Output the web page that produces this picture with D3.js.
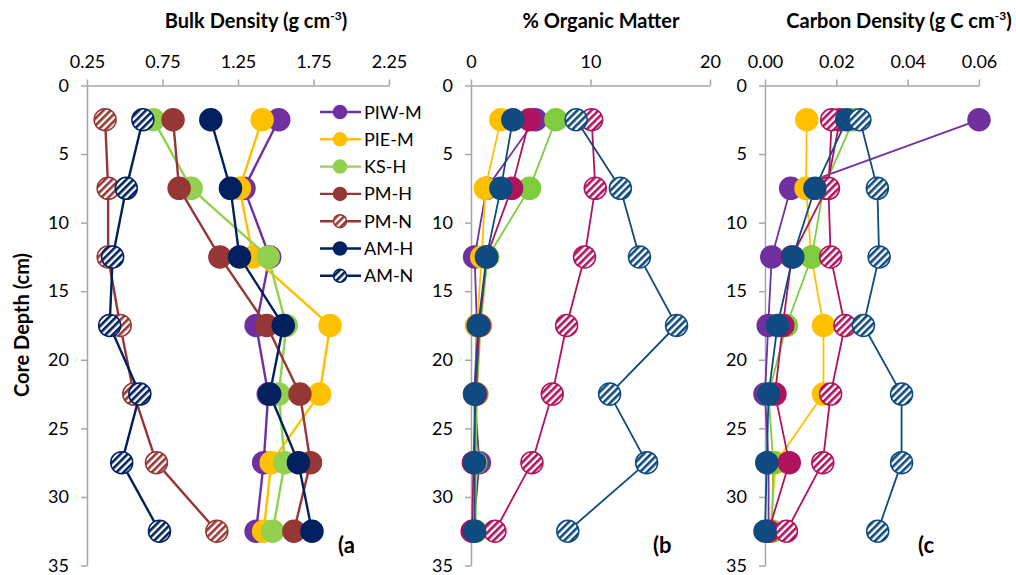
<!DOCTYPE html>
<html><head><meta charset="utf-8">
<script src="https://cdn.jsdelivr.net/npm/d3@7"></script>
<style>
body{margin:0;background:#fff;}
svg{font-family:Lato,"Open Sans",sans-serif;}
</style></head><body>
<svg id="c" width="1016" height="575"></svg>
<script>
const depths = [2.5, 7.5, 12.5, 17.5, 22.5, 27.5, 32.5];
const seriesNames = ["PIW-M","PIE-M","KS-H","PM-H","PM-N","AM-H","AM-N"];
const hatched = [false,false,false,false,true,false,true];
const colorsA = ["#7030A0","#FFC000","#92D050","#953735","#953735","#002060","#002060"];
const colorsBC = ["#7030A0","#FFC000","#7FCC3F","#B0135E","#B0135E","#0F4A80","#0F4A80"];

// Bulk density (g cm-3)
const bdPIWM = [1.52, 1.29, 1.46, 1.37, 1.45, 1.42, 1.37];
const bdPIEM = [1.41, 1.26, 1.35, 1.86, 1.79, 1.47, 1.42];
const bdKSH  = [0.69, 0.94, 1.45, 1.57, 1.52, 1.56, 1.48];
const bdPMH  = [0.82, 0.86, 1.13, 1.44, 1.66, 1.73, 1.62];
const bdPMN  = [0.37, 0.39, 0.39, 0.47, 0.56, 0.71, 1.11];
const bdAMH  = [1.07, 1.20, 1.26, 1.55, 1.46, 1.65, 1.74];
const bdAMN  = [0.62, 0.51, 0.42, 0.40, 0.60, 0.48, 0.73];

// % organic matter
const omPIWM = [5.4, 1.3, 0.3, 0.5, 0.3, 0.7, 0.2];
const omPIEM = [2.5, 1.2, 0.9, 0.5, 0.4, 0.3, 0.3];
const omKSH  = [7.1, 4.9, 1.4, 0.8, 0.5, 0.4, 0.4];
const omPMH  = [4.9, 3.4, 1.3, 0.7, 0.4, 0.2, 0.1];
const omPMN  = [10.1, 10.4, 9.5, 8.0, 6.8, 5.1, 2.0];
const omAMH  = [3.5, 2.5, 1.3, 0.6, 0.3, 0.3, 0.3];
const omAMN  = [8.8, 12.5, 14.1, 17.2, 11.6, 14.7, 8.1];

// Carbon density (g C cm-3)
const cdPIWM = [0.060, 0.0072, 0.0019, 0.0009, 0.0000, 0.0010, 0.0010];
const cdPIEM = [0.0117, 0.0115, 0.0130, 0.0164, 0.0164, 0.0030, 0.0015];
const cdKSH  = [0.0248, 0.0164, 0.0131, 0.0060, 0.0010, 0.0023, 0.0020];
const cdPMH  = [0.0210, 0.0173, 0.0075, 0.0050, 0.0028, 0.0068, 0.0010];
const cdPMN  = [0.0187, 0.0178, 0.0184, 0.0224, 0.0184, 0.0162, 0.0060];
const cdAMH  = [0.0229, 0.0140, 0.0078, 0.0035, 0.0010, 0.0005, 0.0000];
const cdAMN  = [0.0266, 0.0315, 0.0320, 0.0276, 0.0383, 0.0383, 0.0316];

const xTicksA = [0.25, 0.75, 1.25, 1.75, 2.25];
const xTicksB = [0, 10, 20];
const xTicksC = [0.00, 0.02, 0.04, 0.06];
const yTicks = [0, 5, 10, 15, 20, 25, 30, 35];

const svg = d3.select("#c");
const defs = svg.append("defs");
function makePattern(id, color){
  const p = defs.append("pattern").attr("id", id).attr("patternUnits","userSpaceOnUse")
    .attr("width", 5).attr("height", 5).attr("patternTransform","rotate(-45)");
  p.append("rect").attr("width",5).attr("height",5).attr("fill","#fff");
  p.append("rect").attr("width",5).attr("height",2.6).attr("fill",color);
}
makePattern("hA", "#953735"); makePattern("hAn", "#002060");
makePattern("hB", "#B0135E"); makePattern("hBn", "#0F4A80");
const patA = [null,null,null,null,"hA",null,"hAn"];
const patBC = [null,null,null,null,"hB",null,"hBn"];

const y = d3.scaleLinear().domain([0,35]).range([85.5, 565.5]);
const axisColor = "#A6A6A6";

const panels = [
  {x0:87, x1:389, domain:[0.25,2.25], ticks:xTicksA, fmt:d3.format(".2f"), data:[bdPIWM,bdPIEM,bdKSH,bdPMH,bdPMN,bdAMH,bdAMN], colors:colorsA, pats:patA, lw:2.4, title:"Bulk Density (g cm", sup:"-3", tail:")", tx:256, lab:"(a", lx:338},
  {x0:471, x1:710, domain:[0,20], ticks:xTicksB, fmt:d3.format("d"), data:[omPIWM,omPIEM,omKSH,omPMH,omPMN,omAMH,omAMN], colors:colorsBC, pats:patBC, lw:1.8, title:"% Organic Matter", sup:"", tail:"", tx:601, lab:"(b", lx:653},
  {x0:765, x1:979, domain:[0,0.06], ticks:xTicksC, fmt:d3.format(".2f"), data:[cdPIWM,cdPIEM,cdKSH,cdPMH,cdPMN,cdAMH,cdAMN], colors:colorsBC, pats:patBC, lw:1.8, title:"Carbon Density (g C cm", sup:"-3", tail:")", tx:899, lab:"(c", lx:918}
];

panels.forEach(P => {
  const x = d3.scaleLinear().domain(P.domain).range([P.x0, P.x1]);
  const g = svg.append("g");
  const xa = g.append("g").attr("transform",`translate(0,${y(0)})`)
    .call(d3.axisTop(x).tickValues(P.ticks).tickFormat(P.fmt).tickSizeOuter(0).tickSizeInner(6).tickPadding(12));
  const ya = g.append("g").attr("transform",`translate(${P.x0},0)`)
    .call(d3.axisLeft(y).tickValues(yTicks).tickSizeOuter(0).tickSizeInner(6).tickPadding(12));
  [xa, ya].forEach(a => {
    a.select(".domain").attr("stroke", axisColor).attr("stroke-width", 1.5);
    a.selectAll(".tick line").attr("stroke", axisColor).attr("stroke-width", 1.5);
    a.selectAll(".tick text").attr("fill","#000").style("font-size","18px").style("font-family","Lato, sans-serif");
  });
  const t = svg.append("text").attr("x", P.tx).attr("y", 28).attr("text-anchor","middle")
    .style("font-weight","bold").style("font-size","20px").attr("fill","#000");
  t.append("tspan").text(P.title);
  if (P.sup){ t.append("tspan").attr("dy",-8).style("font-size","12px").text(P.sup);
              t.append("tspan").attr("dy",8).text(P.tail); }
  P.data.forEach((vals, i) => {
    const pts = depths.map((d,k)=>[x(vals[k]), y(d)]);
    g.append("path").attr("d", d3.line()(pts)).attr("fill","none")
      .attr("stroke", P.colors[i]).attr("stroke-width", P.lw).attr("stroke-linejoin","round");
    g.selectAll(null).data(pts).enter().append("circle")
      .attr("cx", p=>p[0]).attr("cy", p=>p[1]).attr("r", 11)
      .attr("fill", hatched[i] ? `url(#${P.pats[i]})` : P.colors[i])
      .attr("stroke", P.colors[i]).attr("stroke-width", 1.5);
  });
  svg.append("text").attr("x", P.lx).attr("y", 553).text(P.lab)
    .style("font-weight","bold").style("font-size","22px").attr("fill","#000");
});

svg.append("text").attr("transform","translate(29,325) rotate(-90)").attr("text-anchor","middle")
  .style("font-weight","bold").style("font-size","20px").text("Core Depth (cm)");

const lg = svg.append("g");
seriesNames.forEach((n,i) => {
  const yy = 112 + i*27.3;
  lg.append("line").attr("x1",320).attr("x2",361).attr("y1",yy).attr("y2",yy)
    .attr("stroke", colorsA[i]).attr("stroke-width", 2.4);
  lg.append("circle").attr("cx",340).attr("cy",yy).attr("r", 6.5)
    .attr("fill", hatched[i] ? `url(#${patA[i]})` : colorsA[i]).attr("stroke", colorsA[i]).attr("stroke-width",1.5);
  lg.append("text").attr("x",364).attr("y",yy+6.5).text(n).style("font-size","18px").attr("fill","#000");
});
</script>
</body></html>
